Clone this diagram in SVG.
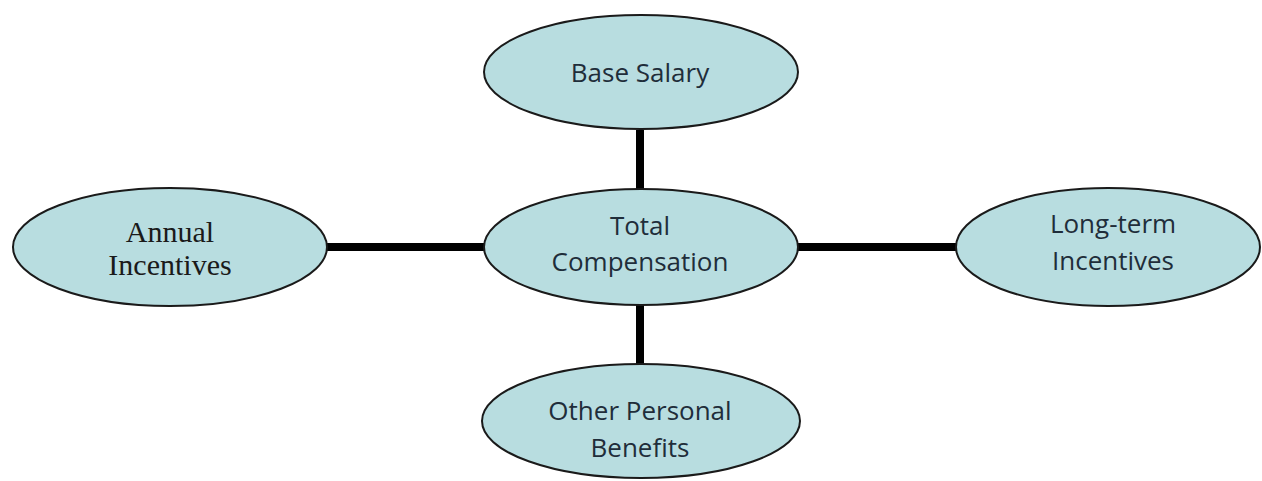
<svg xmlns="http://www.w3.org/2000/svg" width="1262" height="481" viewBox="0 0 1262 481">
<style>
.node{fill:#b8dde0;stroke:#1a1a1a;stroke-width:2}
.conn{stroke:#000;stroke-width:8;fill:none}
.sans{font-family:"Open Sans","Liberation Sans",sans-serif;font-size:26px;fill:#1f2d3a;text-anchor:middle}
.serif{font-family:"Liberation Serif",serif;font-size:30px;fill:#1a1a1a;text-anchor:middle}
</style>
<rect width="1262" height="481" fill="#fff"/>
<g id="connectors">
<line class="conn" x1="640" y1="130" x2="640" y2="190"/>
<line class="conn" x1="640" y1="305" x2="640" y2="365"/>
<line class="conn" x1="327" y1="247" x2="484" y2="247"/>
<line class="conn" x1="798" y1="247" x2="956" y2="247"/>
</g>
<g id="base-salary">
<ellipse class="node" cx="641" cy="72" rx="157" ry="57"/>
<text class="sans" x="640" y="82">Base Salary</text>
</g>
<g id="total-compensation">
<ellipse class="node" cx="641" cy="247" rx="157" ry="58"/>
<text class="sans" x="640" y="235">Total</text>
<text class="sans" x="640" y="271">Compensation</text>
</g>
<g id="annual-incentives">
<ellipse class="node" cx="170" cy="247" rx="157" ry="59"/>
<text class="serif" x="170" y="242">Annual</text>
<text class="serif" x="170" y="275">Incentives</text>
</g>
<g id="long-term-incentives">
<ellipse class="node" cx="1108" cy="247" rx="152" ry="59"/>
<text class="sans" x="1113" y="233">Long-term</text>
<text class="sans" x="1113" y="270">Incentives</text>
</g>
<g id="other-personal-benefits">
<ellipse class="node" cx="641" cy="421" rx="159" ry="57"/>
<text class="sans" x="640" y="420">Other Personal</text>
<text class="sans" x="640" y="457">Benefits</text>
</g>
</svg>
